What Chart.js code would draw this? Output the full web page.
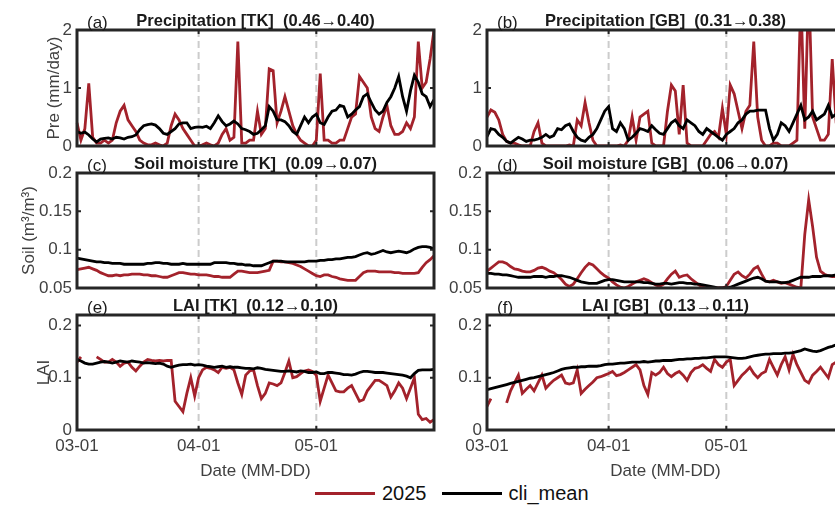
<!DOCTYPE html>
<html>
<head>
<meta charset="utf-8">
<script src="https://cdn.jsdelivr.net/npm/chart.js"></script>
<style>
  html, body { margin: 0; padding: 0; background: #fff; overflow: hidden; }
  #fig { position: relative; width: 835px; height: 505px; overflow: hidden;
         font-family: "Liberation Sans", Arial, sans-serif; }
  #fig canvas { position: absolute; }
  #legend { position: absolute; left: 315px; top: 480px; height: 26px;
            display: flex; align-items: center; font-size: 20px; color: #111; white-space: nowrap; }
  #legend .sw { display: inline-block; width: 60px; height: 3px; margin-right: 7px; }
  #legend .txt { margin-right: 15px; }
</style>
</head>
<body>
<div id="fig">
  <div id="legend"></div>
</div>
<script>
// ---- x categories (Mar 1 .. May 31) ----
const monthNames = ['03', '04', '05'];
const monthLengths = [31, 30, 31];
const dates = [];
monthNames.forEach((m, i) => {
  for (let d = 1; d <= monthLengths[i]; d++) dates.push(m + '-' + String(d).padStart(2, '0'));
});
const xTickLabels = ['03-01', '04-01', '05-01'];
const dashedDates = ['04-01', '05-01'];

const seriesNames = ['2025', 'cli_mean'];
const seriesColors = ['#a3222b', '#000000'];

// ---- y ticks ----
const preTicks = [0, 1, 2];
const soilTicks = [0.05, 0.1, 0.15, 0.2];
const laiTicks = [0, 0.1, 0.2];

// ---- (a) precipitation TK ----
const preTK2025 = [0.4,0.1,0.3,1.08,0.15,0.05,0.05,0.1,0.05,0.1,
  0.4,0.6,0.7,0.45,0.35,0.25,0.1,0.05,0.02,0.02,
  0.05,0.02,0,0.05,0.35,0.55,0.45,0.3,0.2,0.1,
  0,0,0.02,0.05,0.02,0,0.05,0.2,0.3,0.1,
  0.15,1.8,0.05,0.05,0.1,0.1,0.6,0.2,0.3,1.33,
  1.3,0.4,0.6,0.85,0.6,0.35,0.2,0.1,0.05,0,
  0,0.1,1.25,0.1,0.1,0.05,0.05,0.1,0.1,0.3,
  0.5,0.55,1.2,1.1,1.0,0.5,0.3,0.25,0.5,0.7,
  0.35,0.2,0.2,0.25,0.4,0.3,0.5,1.8,1.0,1.1,
  1.5,2.0];
const preTKmean = [0.25,0.22,0.24,0.19,0.12,0.07,0.12,0.13,0.14,0.12,
  0.15,0.14,0.12,0.15,0.16,0.19,0.28,0.35,0.37,0.38,
  0.36,0.3,0.22,0.2,0.25,0.3,0.38,0.4,0.4,0.3,
  0.32,0.33,0.32,0.34,0.3,0.4,0.52,0.42,0.35,0.38,
  0.43,0.38,0.3,0.28,0.25,0.2,0.22,0.28,0.35,0.68,
  0.6,0.45,0.45,0.42,0.35,0.25,0.2,0.35,0.5,0.4,
  0.5,0.55,0.4,0.37,0.5,0.6,0.62,0.7,0.68,0.5,
  0.55,0.62,0.68,0.85,0.9,0.75,0.62,0.55,0.6,0.75,
  0.85,1.0,1.2,0.85,0.6,0.95,1.22,1.1,0.9,0.85,
  0.68,0.8];

// ---- (b) precipitation GB ----
const preGB2025 = [0.5,0.62,0.58,0.45,0.2,0.08,0.05,0.05,0.02,0,
  0,0,0.25,0.4,0.05,0,0,0,0,0,
  0,0.02,0,0.45,0.35,0.75,0.4,0.1,0,0,
  0,0,0,0,0.02,0,0.1,0.5,0.1,0.5,
  0.55,0.6,0.05,0,0,0,0.6,1.05,0.95,0.2,
  1.05,0.05,0,0,0,0,0.1,0.2,0.25,0.15,
  0.65,0.2,1.05,0.9,0.6,0.3,0.6,0.7,1.8,0.5,
  0.1,0,0,0.05,0.05,0,0,0,0.05,0.1,
  2.6,0.3,2.8,0.5,0.3,0.1,0.1,0.2,1.5,0.4,
  0.3,0.3];
const preGBmean = [0.16,0.3,0.28,0.2,0.15,0.08,0.05,0.1,0.15,0.12,
  0.08,0.1,0.1,0.12,0.15,0.2,0.15,0.18,0.3,0.28,
  0.35,0.38,0.25,0.15,0.1,0.08,0.15,0.2,0.3,0.45,
  0.6,0.68,0.3,0.25,0.4,0.3,0.1,0.15,0.22,0.3,
  0.28,0.25,0.35,0.28,0.22,0.2,0.3,0.4,0.45,0.35,
  0.3,0.45,0.4,0.35,0.25,0.2,0.3,0.25,0.2,0.15,
  0.1,0.2,0.25,0.3,0.4,0.45,0.55,0.6,0.6,0.62,
  0.62,0.62,0.3,0.1,0.2,0.4,0.35,0.25,0.4,0.55,
  0.7,0.45,0.5,0.6,0.45,0.5,0.55,0.7,0.5,0.55,
  0.6,0.6];

// ---- (c) soil moisture TK ----
const soilTK2025 = [0.074,0.075,0.076,0.077,0.075,0.073,0.07,0.068,0.066,0.066,
  0.067,0.066,0.067,0.067,0.068,0.068,0.068,0.067,0.067,0.066,
  0.066,0.065,0.064,0.064,0.066,0.068,0.07,0.07,0.069,0.068,
  0.068,0.067,0.067,0.067,0.066,0.065,0.065,0.064,0.064,0.064,
  0.068,0.072,0.072,0.071,0.07,0.07,0.07,0.071,0.072,0.073,
  0.085,0.085,0.084,0.084,0.083,0.082,0.08,0.078,0.075,0.072,
  0.069,0.066,0.065,0.067,0.067,0.065,0.064,0.062,0.061,0.06,
  0.06,0.06,0.065,0.07,0.072,0.072,0.072,0.071,0.071,0.071,
  0.071,0.07,0.07,0.069,0.069,0.069,0.069,0.07,0.077,0.083,
  0.087,0.092];
const soilTKmean = [0.089,0.088,0.087,0.086,0.085,0.084,0.084,0.083,0.083,0.082,
  0.082,0.082,0.081,0.081,0.081,0.081,0.081,0.081,0.082,0.082,
  0.083,0.083,0.082,0.082,0.081,0.081,0.081,0.082,0.081,0.081,
  0.081,0.081,0.081,0.081,0.081,0.083,0.083,0.083,0.083,0.082,
  0.082,0.081,0.081,0.08,0.08,0.079,0.079,0.079,0.081,0.083,
  0.085,0.085,0.085,0.084,0.084,0.084,0.084,0.084,0.084,0.085,
  0.085,0.085,0.086,0.086,0.087,0.087,0.088,0.088,0.089,0.09,
  0.09,0.091,0.093,0.095,0.096,0.094,0.095,0.097,0.099,0.097,
  0.096,0.097,0.098,0.097,0.096,0.098,0.101,0.103,0.104,0.104,
  0.103,0.101];

// ---- (d) soil moisture GB ----
const soilGB2025 = [0.072,0.076,0.08,0.084,0.084,0.082,0.078,0.075,0.074,0.072,
  0.071,0.071,0.073,0.076,0.077,0.075,0.072,0.07,0.066,0.061,
  0.055,0.052,0.055,0.062,0.07,0.077,0.082,0.08,0.075,0.07,
  0.066,0.063,0.058,0.054,0.051,0.05,0.052,0.055,0.058,0.06,
  0.062,0.06,0.057,0.054,0.052,0.055,0.062,0.068,0.072,0.064,
  0.066,0.067,0.062,0.058,0.054,0.051,0.05,0.05,0.05,0.05,
  0.05,0.052,0.06,0.068,0.071,0.066,0.063,0.068,0.075,0.078,
  0.068,0.059,0.058,0.06,0.058,0.056,0.057,0.055,0.053,0.051,
  0.05,0.12,0.165,0.13,0.09,0.072,0.068,0.066,0.065,0.065,
  0.064,0.064];
const soilGBmean = [0.069,0.069,0.068,0.068,0.067,0.067,0.066,0.065,0.064,0.064,
  0.064,0.064,0.065,0.065,0.065,0.064,0.065,0.065,0.066,0.066,
  0.065,0.064,0.062,0.06,0.058,0.057,0.056,0.056,0.056,0.058,
  0.06,0.061,0.061,0.06,0.059,0.058,0.058,0.058,0.058,0.058,
  0.057,0.057,0.056,0.055,0.055,0.056,0.056,0.055,0.056,0.057,
  0.057,0.056,0.056,0.055,0.055,0.054,0.053,0.052,0.051,0.05,
  0.05,0.05,0.051,0.053,0.055,0.057,0.059,0.061,0.063,0.064,
  0.062,0.059,0.058,0.058,0.058,0.057,0.057,0.058,0.06,0.062,
  0.064,0.064,0.064,0.065,0.065,0.065,0.066,0.066,0.066,0.067,
  0.067,0.067];

// ---- (e) LAI TK ----
const laiTK2025 = [0.13,0.14,null,null,null,0.14,0.135,0.13,0.13,0.135,
  0.13,0.122,0.128,0.13,0.12,0.113,0.122,0.13,0.135,0.133,
  0.132,0.133,0.132,0.133,0.133,0.055,0.045,0.035,0.07,0.1,
  0.065,0.1,0.115,0.12,0.118,0.115,0.11,0.12,0.118,0.12,
  0.115,0.09,0.068,0.105,0.113,0.115,0.085,0.06,0.07,0.09,
  0.088,0.085,0.09,0.11,0.132,0.1,0.102,0.108,0.113,0.115,
  0.112,0.105,0.055,0.08,0.105,0.09,0.075,0.073,0.073,0.08,
  0.085,0.07,0.055,0.058,0.075,0.085,0.095,0.095,0.09,0.085,
  0.063,0.075,0.09,0.08,0.06,0.08,0.1,0.03,0.02,0.022,
  0.015,0.02];
const laiTKmean = [0.135,0.132,0.128,0.126,0.126,0.128,0.13,0.131,0.13,0.128,
  0.13,0.132,0.131,0.13,0.132,0.131,0.13,0.128,0.129,0.128,
  0.127,0.128,0.126,0.122,0.12,0.122,0.124,0.125,0.125,0.126,
  0.124,0.125,0.124,0.122,0.121,0.12,0.121,0.122,0.12,0.121,
  0.12,0.12,0.119,0.118,0.118,0.117,0.119,0.118,0.116,0.115,
  0.114,0.113,0.112,0.112,0.113,0.112,0.111,0.113,0.112,0.11,
  0.11,0.111,0.108,0.108,0.11,0.11,0.109,0.108,0.106,0.106,
  0.105,0.107,0.11,0.112,0.112,0.111,0.11,0.11,0.11,0.109,
  0.108,0.107,0.106,0.105,0.103,0.1,0.108,0.114,0.115,0.115,
  0.115,0.116];

// ---- (f) LAI GB ----
const laiGB2025 = [0.045,0.06,null,null,null,0.052,0.075,0.09,0.105,0.07,
  0.078,0.085,0.075,0.09,0.105,0.08,0.088,0.095,0.1,0.105,
  0.09,0.088,0.09,0.115,0.07,0.078,0.085,0.092,0.1,0.102,
  0.105,0.108,0.112,0.104,0.106,0.11,0.115,0.12,0.125,0.115,
  0.085,0.068,0.11,0.105,0.11,0.12,0.108,0.102,0.108,0.112,
  0.105,0.095,0.11,0.118,0.12,0.125,0.118,0.112,0.135,0.125,
  0.12,0.13,0.135,0.085,0.095,0.105,0.112,0.12,0.108,0.1,
  0.108,0.112,0.135,0.12,0.105,0.125,0.14,0.115,0.145,0.125,
  0.11,0.095,0.09,0.105,0.112,0.12,0.11,0.1,0.125,0.13,
  0.12,0.125];
const laiGBmean = [0.077,0.079,0.081,0.083,0.085,0.087,0.089,0.091,0.093,0.095,
  0.097,0.099,0.1,0.102,0.104,0.106,0.108,0.11,0.113,0.116,
  0.118,0.119,0.12,0.12,0.121,0.121,0.122,0.122,0.122,0.123,
  0.125,0.126,0.126,0.127,0.128,0.128,0.129,0.13,0.13,0.13,
  0.131,0.13,0.131,0.132,0.132,0.133,0.133,0.133,0.134,0.135,
  0.135,0.136,0.136,0.137,0.137,0.138,0.138,0.139,0.14,0.14,
  0.14,0.14,0.139,0.138,0.137,0.137,0.138,0.14,0.142,0.143,
  0.144,0.145,0.145,0.146,0.146,0.146,0.147,0.147,0.148,0.15,
  0.152,0.155,0.153,0.151,0.15,0.152,0.155,0.158,0.16,0.163,
  0.165,0.167];

const panels = [
  { tag: '(a)', title: 'Precipitation [TK]  (0.46\u21920.40)', obs: preTK2025, clim: preTKmean,
    yMin: 0, yMax: 2, yTicks: preTicks, yTitle: 'Pre (mm/day)', yTitlePad: 44, col: 0, row: 0 },
  { tag: '(b)', title: 'Precipitation [GB]  (0.31\u21920.38)', obs: preGB2025, clim: preGBmean,
    yMin: 0, yMax: 2, yTicks: preTicks, yTitle: '', col: 1, row: 0 },
  { tag: '(c)', title: 'Soil moisture [TK]  (0.09\u21920.07)', obs: soilTK2025, clim: soilTKmean,
    yMin: 0.05, yMax: 0.2, yTicks: soilTicks, yTitle: 'Soil (m\u00b3/m\u00b3)', yTitlePad: 19, col: 0, row: 1 },
  { tag: '(d)', title: 'Soil moisture [GB]  (0.06\u21920.07)', obs: soilGB2025, clim: soilGBmean,
    yMin: 0.05, yMax: 0.2, yTicks: soilTicks, yTitle: '', col: 1, row: 1 },
  { tag: '(e)', title: 'LAI [TK]  (0.12\u21920.10)', obs: laiTK2025, clim: laiTKmean,
    yMin: 0, yMax: 0.22, yTicks: laiTicks, yTitle: 'LAI', yTitlePad: 34, col: 0, row: 2 },
  { tag: '(f)', title: 'LAI [GB]  (0.13\u21920.11)', obs: laiGB2025, clim: laiGBmean,
    yMin: 0, yMax: 0.22, yTicks: laiTicks, yTitle: '', col: 1, row: 2 }
];

// canvas placement of each column / row
const cols = [
  { left: 0, width: 440, axisW: 77 },
  { left: 420, width: 430, axisW: 67 }
];
const rows = [
  { top: 0, height: 165, padTop: 30, padBottom: 19, xAxisH: 0 },
  { top: 150, height: 155, padTop: 23, padBottom: 17, xAxisH: 0 },
  { top: 292, height: 213, padTop: 23, padBottom: 0, xAxisH: 75 }
];

Chart.defaults.font.family = '"Liberation Sans", Arial, sans-serif';
Chart.defaults.color = '#404040';

// dashed month lines, box frame with inward ticks, panel tag + title
const panelDecor = {
  id: 'panelDecor',
  beforeDatasetsDraw(chart) {
    const { ctx, chartArea: a, scales: { x } } = chart;
    ctx.save();
    ctx.strokeStyle = '#cccccc';
    ctx.lineWidth = 2;
    ctx.setLineDash([7, 4]);
    dashedDates.forEach(d => {
      const px = x.getPixelForValue(dates.indexOf(d));
      ctx.beginPath();
      ctx.moveTo(px, a.top);
      ctx.lineTo(px, a.bottom);
      ctx.stroke();
    });
    ctx.restore();
  },
  afterDatasetsDraw(chart) {
    const { ctx, chartArea: a, scales: { x, y } } = chart;
    const p = chart.options.plugins.panelDecor;
    ctx.save();
    ctx.strokeStyle = '#262626';
    ctx.lineWidth = 3;
    ctx.strokeRect(a.left, a.top, a.right - a.left, a.bottom - a.top);
    ctx.lineWidth = 2;
    ctx.beginPath();
    xTickLabels.forEach(l => {
      const px = x.getPixelForValue(dates.indexOf(l));
      ctx.moveTo(px, a.bottom); ctx.lineTo(px, a.bottom - 4);
      ctx.moveTo(px, a.top); ctx.lineTo(px, a.top + 4);
    });
    p.yTicks.forEach(v => {
      const py = y.getPixelForValue(v);
      ctx.moveTo(a.left, py); ctx.lineTo(a.left + 4, py);
      ctx.moveTo(a.right, py); ctx.lineTo(a.right - 4, py);
    });
    ctx.stroke();

    ctx.fillStyle = '#1a1a1a';
    ctx.textBaseline = 'alphabetic';
    ctx.font = '17px "Liberation Sans", Arial, sans-serif';
    ctx.textAlign = 'left';
    ctx.fillText(p.tag, a.left + 10, a.top - 2);
    ctx.font = 'bold 16.5px "Liberation Sans", Arial, sans-serif';
    ctx.textAlign = 'center';
    ctx.fillText(p.title, (a.left + a.right) / 2, a.top - 4);
    ctx.restore();
  }
};

const fig = document.getElementById('fig');

panels.forEach(p => {
  const c = cols[p.col], r = rows[p.row];
  const cv = document.createElement('canvas');
  cv.width = c.width;
  cv.height = r.height;
  cv.style.left = c.left + 'px';
  cv.style.top = r.top + 'px';
  fig.appendChild(cv);

  new Chart(cv, {
    type: 'line',
    data: {
      labels: dates,
      datasets: [
        { label: seriesNames[0], data: p.obs, borderColor: seriesColors[0], borderWidth: 2.8,
          pointRadius: 0, tension: 0, spanGaps: false, order: 1 },
        { label: seriesNames[1], data: p.clim, borderColor: seriesColors[1], borderWidth: 2.8,
          pointRadius: 0, tension: 0, order: 0 }
      ]
    },
    options: {
      responsive: false,
      animation: false,
      events: [],
      layout: { autoPadding: false, padding: { left: 0, right: 6, top: r.padTop, bottom: r.padBottom } },
      scales: {
        x: {
          type: 'category',
          grid: { display: false, drawTicks: false },
          border: { display: false },
          ticks: { display: p.row === 2, autoSkip: false, maxRotation: 0, padding: 6,
                   font: { size: 17 }, color: '#404040' },
          afterBuildTicks: s => { s.ticks = xTickLabels.map(l => ({ value: dates.indexOf(l) })); },
          afterFit: s => { s.height = r.xAxisH; },
          title: { display: p.row === 2, text: 'Date (MM-DD)', font: { size: 17 }, color: '#404040',
                   padding: { top: 0, bottom: 23 } }
        },
        y: {
          min: p.yMin,
          max: p.yMax,
          grid: { display: false, drawTicks: false },
          border: { display: false },
          ticks: { padding: 5, font: { size: 17 }, color: '#404040', callback: v => String(v) },
          afterBuildTicks: s => { s.ticks = p.yTicks.map(v => ({ value: v })); },
          afterFit: s => { s.width = c.axisW; },
          title: { display: !!p.yTitle, text: p.yTitle, font: { size: 17 }, color: '#404040',
                   padding: { top: p.yTitlePad || 0, bottom: 0 } }
        }
      },
      plugins: {
        legend: { display: false },
        tooltip: { enabled: false },
        panelDecor: { tag: p.tag, title: p.title, yTicks: p.yTicks }
      }
    },
    plugins: [panelDecor]
  });
});

// figure-wide legend
const legend = document.getElementById('legend');
seriesNames.forEach((name, i) => {
  const sw = document.createElement('span');
  sw.className = 'sw';
  sw.style.background = seriesColors[i];
  const t = document.createElement('span');
  t.className = 'txt';
  t.textContent = name;
  legend.appendChild(sw);
  legend.appendChild(t);
});
</script>
</body>
</html>
